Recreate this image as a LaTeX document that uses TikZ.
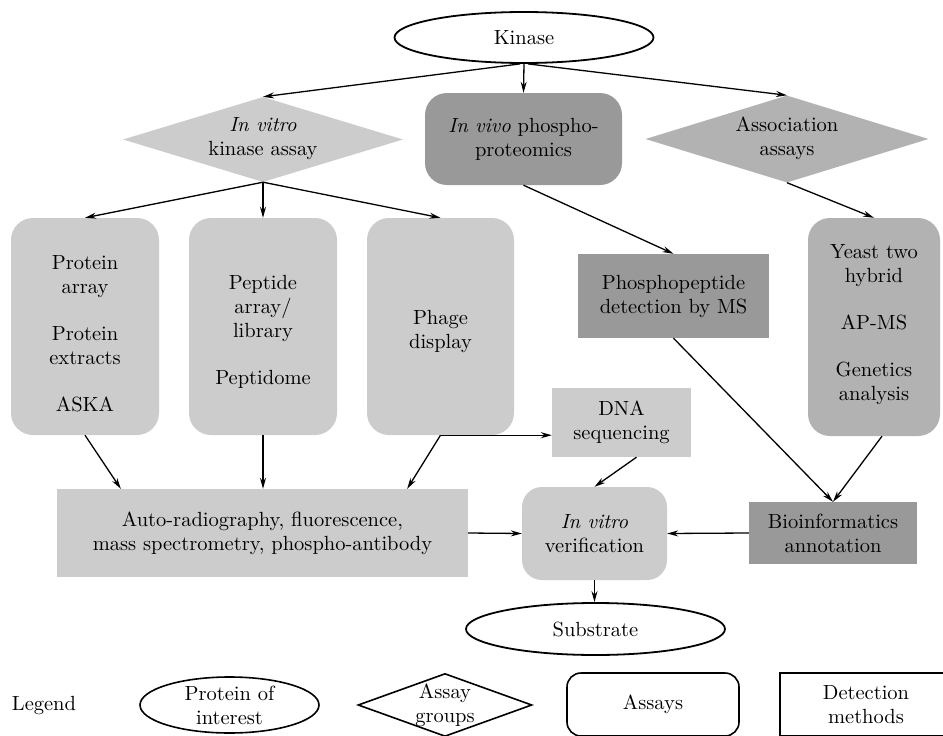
\documentclass[tikz,border=0pt]{standalone}
\usepackage{fontspec}
\setmainfont{lmroman10-regular.otf}[ItalicFont=lmroman10-italic.otf,BoldFont=lmroman10-bold.otf]
\usetikzlibrary{shapes.geometric,arrows.meta}
\definecolor{lightg}{HTML}{CCCCCC}
\definecolor{midg}{HTML}{B2B2B2}
\definecolor{darkg}{HTML}{999999}
\begin{document}
\begin{tikzpicture}[x=1pt,y=-1pt,
  every node/.style={font=\fontsize{20.5}{24}\selectfont, align=center, inner sep=0pt},
  conn/.style={line width=1.3pt, -{Stealth[length=11pt,width=6pt]}},
  rbox/.style={rectangle, rounded corners=22pt},
  sbox/.style={rectangle},
  oval/.style={ellipse, draw, line width=1.8pt},
  legbox/.style={draw, line width=1.6pt, minimum width=172pt, minimum height=63pt}
]
\useasboundingbox (0,0) rectangle (943,736);
\fill[white] (0,0) rectangle (943,736);

% top level
\node[oval, minimum width=259pt, minimum height=51pt] (kin) at (524,37.5) {Kinase};
\node[diamond, fill=lightg, minimum width=280pt, minimum height=85pt] (ivk) at (263,139.5) {};
\node (ivkt) at (263,138.5) {\textit{In vitro}\\kinase assay};
\node[rbox, fill=darkg, minimum width=197pt, minimum height=92pt] (ivp) at (523.5,139) {\textit{In vivo} phospho-\\proteomics};
\node[diamond, fill=midg, minimum width=283pt, minimum height=87pt] (asc) at (787,139) {};
\node (asct) at (787,138.5) {Association\\assays};

% assay boxes
\node[rbox, fill=lightg, minimum width=148pt, minimum height=217pt] (pa) at (85,326.5) {};
\node (pat) at (85,333.5) {Protein\\array\\[23pt]Protein\\extracts\\[23pt]ASKA};
\node[rbox, fill=lightg, minimum width=148pt, minimum height=217pt] (pe) at (263,326.5) {};
\node (pet) at (263,331.5) {Peptide\\array/\\library\\[23pt]Peptidome};
\node[rbox, fill=lightg, minimum width=147pt, minimum height=217pt] (ph) at (440.5,326.5) {};
\node (pht) at (440.5,331.5) {Phage\\display};
\node[rbox, fill=midg, minimum width=132pt, minimum height=218pt] (ye) at (874,327) {};
\node (yet) at (874,325) {Yeast two\\hybrid\\[23pt]AP-MS\\[23pt]Genetics\\analysis};

% detection boxes
\node[sbox, fill=darkg, minimum width=191pt, minimum height=84pt] (pd) at (673.5,296) {Phosphopeptide\\detection by MS};
\node[sbox, fill=lightg, minimum width=139pt, minimum height=69pt] (dna) at (621.5,422.5) {DNA\\sequencing};
\node[sbox, fill=lightg, minimum width=411pt, minimum height=88pt] (auto) at (262.5,533) {Auto-radiography, fluorescence,\\mass spectrometry, phospho-antibody};
\node[rbox, rounded corners=20pt, fill=lightg, minimum width=145pt, minimum height=93pt] (ver) at (594.5,533.5) {\textit{In vitro}\\verification};
\node[sbox, fill=darkg, minimum width=168pt, minimum height=62pt] (bio) at (833,533) {Bioinformatics\\annotation};
\node[oval, minimum width=259pt, minimum height=52pt] (sub) at (595.5,629) {Substrate};

% legend
\node (leg) at (44,705) {Legend};
\node[oval, line width=1.6pt, minimum width=179pt, minimum height=56pt] (lpoi) at (229.5,705) {Protein of\\interest};
\node[diamond, draw, line width=1.6pt, minimum width=174pt, minimum height=63pt] (lag) at (445,705) {};
\node (lagt) at (445,705) {Assay\\groups};
\node[legbox, rounded corners=14pt] (las) at (653,704.5) {Assays};
\node[legbox] (ldm) at (866,704.5) {Detection\\methods};

% connectors
\draw[conn] ([xshift=-4pt]kin.south) -- (ivk.north);
\draw[conn] (kin.south) -- (ivp.north);
\draw[conn] ([xshift=4pt]kin.south) -- (asc.north);
\draw[conn] (ivk.south) -- (pa.north);
\draw[conn] (ivk.south) -- (pe.north);
\draw[conn] (ivk.south) -- (ph.north);
\draw[conn] (ivp.south) -- (pd.north);
\draw[conn] (asc.south) -- (ye.north);
\draw[conn] (pa.south) -- ([xshift=64pt]auto.north west);
\draw[conn] (pe.south) -- (pe.south |- auto.north);
\draw[conn] (ph.south) -- (ph.south -| dna.west);
\draw[conn] (ph.south) -- ([xshift=-61pt]auto.north east);
\draw[conn] ([xshift=15pt]dna.south) -- (ver.north);
\draw[conn] (auto.east) -- (ver.west);
\draw[conn] (bio.west) -- (ver.east);
\draw[conn] (ver.south) -- (ver.south |- sub.north);
\draw[conn] (pd.south) -- (bio.north);
\draw[conn] ([xshift=8pt]ye.south) -- (bio.north);
\end{tikzpicture}
\end{document}
